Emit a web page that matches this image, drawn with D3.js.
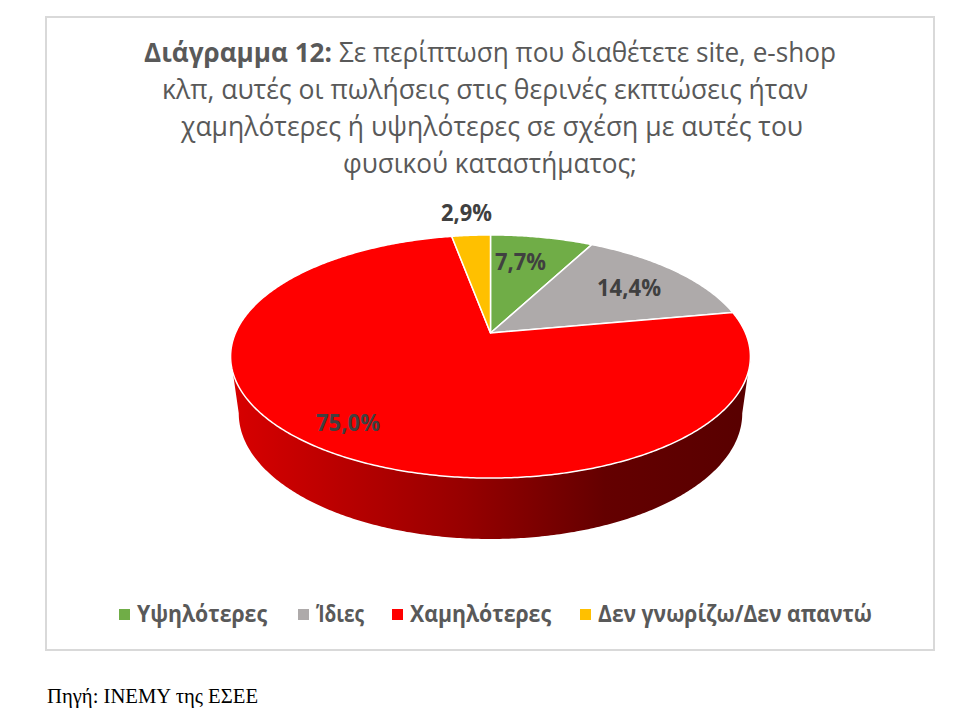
<!DOCTYPE html>
<html lang="el">
  <head>
    <meta charset="UTF-8" />
    <title>Διάγραμμα 12</title>
    <style>
      html, body { margin: 0; padding: 0; background: #fff; }
      svg { display: block; }
      text { font-family: "Open Sans", "Noto Sans", sans-serif; }
      .source { font-family: "Liberation Serif", "DejaVu Serif", serif; }
    </style>
  </head>
  <body>
    <script src="https://cdn.jsdelivr.net/npm/d3@7/dist/d3.min.js"></script>
    <script>
      var categories = ["Υψηλότερες", "Ίδιες", "Χαμηλότερες", "Δεν γνωρίζω/Δεν απαντώ"];
      var values = [7.7, 14.4, 75.0, 2.9];
      var valueLabels = ["7,7%", "14,4%", "75,0%", "2,9%"];
      var colors = ["#70ad47", "#aeaaaa", "#ff0000", "#ffc000"];
      var titleBold = "Διάγραμμα 12:";
      var titleLines = [
        "Σε περίπτωση που διαθέτετε site, e-shop",
        "κλπ, αυτές οι πωλήσεις στις θερινές εκπτώσεις ήταν",
        "χαμηλότερες ή υψηλότερες σε σχέση με αυτές του",
        "φυσικού καταστήματος;"
      ];
      var source = "Πηγή: ΙΝΕΜΥ της ΕΣΕΕ";

      var w = 977, h = 722;
      var svg = d3.select("body").append("svg").attr("width", w).attr("height", h);

      // chart frame
      svg.append("rect")
         .attr("x", 46).attr("y", 17).attr("width", 888).attr("height", 633)
         .attr("fill", "#fff").attr("stroke", "#d9d9d9").attr("stroke-width", 2);

      // text squeezed to the measured width, the original font is narrower
      function fit(sel, len) {
        return sel.attr("textLength", len).attr("lengthAdjust", "spacingAndGlyphs");
      }

      // title
      fit(svg.append("text").attr("x", 144).attr("y", 62), 188)
        .attr("font-size", 27).attr("font-weight", "bold").attr("fill", "#595959")
        .text(titleBold);

      var titleX = [339, 162, 181, 343];
      var titleY = [62, 99, 136, 173];
      var titleW = [497, 646, 622, 294];
      titleLines.forEach(function(line, i) {
        fit(svg.append("text").attr("x", titleX[i]).attr("y", titleY[i]), titleW[i])
          .attr("font-size", 27).attr("fill", "#595959")
          .text(line);
      });

      // pie, the disc is seen in perspective so the centre sits above the ellipse centre
      var pie = d3.pie().sort(null).value(function(d) { return d; });
      var arcs = pie(values);

      var disc = { cx: 490.5, cy: 333, a: 255, b: 117, k: 0.1934 };
      var rim = { cx: 490.5, cy: 389, a: 247, b: 121, k: 0.1934 };

      function project(p, angle) {
        var u = Math.sin(angle), v = Math.cos(angle);
        var d = 1 + p.k * v;
        return [p.cx + p.a * u / d, p.cy - p.b * v / d];
      }

      function sweep(p, a0, a1) {
        var n = Math.max(2, Math.ceil(Math.abs(a1 - a0) / 0.01));
        return d3.range(n + 1).map(function(i) {
          return project(p, a0 + (a1 - a0) * i / n);
        });
      }

      var pathLine = d3.line();

      var grad = svg.append("defs").append("linearGradient")
                    .attr("id", "wall")
                    .attr("gradientUnits", "userSpaceOnUse")
                    .attr("x1", 232).attr("x2", 750).attr("y1", 0).attr("y2", 0);
      grad.append("stop").attr("offset", "0").attr("stop-color", "#d80000");
      grad.append("stop").attr("offset", "0.45").attr("stop-color", "#960000");
      grad.append("stop").attr("offset", "0.72").attr("stop-color", "#640000");
      grad.append("stop").attr("offset", "1").attr("stop-color", "#580000");

      // outer wall, only the side that faces the viewer
      var wallFrom = Math.PI / 2 + Math.asin(disc.k);
      var wallTo = 3 * Math.PI / 2 - Math.asin(disc.k);
      var wallPts = sweep(disc, wallFrom, wallTo).concat(sweep(rim, wallTo, wallFrom));
      svg.append("path").attr("d", pathLine(wallPts) + "Z").attr("fill", "url(#wall)");

      // top face
      svg.selectAll("path.slice")
         .data(arcs)
         .enter()
         .append("path")
         .attr("class", "slice")
         .attr("d", function(d) {
           return pathLine([[disc.cx, disc.cy]].concat(sweep(disc, d.startAngle, d.endAngle))) + "Z";
         })
         .attr("fill", function(d, i) { return colors[i]; })
         .attr("stroke", "#fff")
         .attr("stroke-width", 1.5)
         .attr("stroke-linejoin", "round");

      // value labels
      var labelX = [495, 597, 316, 441];
      var labelY = [270, 296, 431, 221];
      var labelW = [51, 64, 64, 51];
      valueLabels.forEach(function(t, i) {
        fit(svg.append("text").attr("x", labelX[i]).attr("y", labelY[i]), labelW[i])
          .attr("font-size", 23).attr("font-weight", "bold").attr("fill", "#404040")
          .text(t);
      });

      // legend
      var keyX = [119, 298, 392, 580];
      var legendX = [137, 316, 410, 598];
      var legendW = [130, 48, 141, 274];
      categories.forEach(function(c, i) {
        svg.append("rect")
           .attr("x", keyX[i]).attr("y", 609)
           .attr("width", 11).attr("height", 11)
           .attr("fill", colors[i]);
        fit(svg.append("text").attr("x", legendX[i]).attr("y", 622), legendW[i])
          .attr("font-size", 23).attr("font-weight", "bold").attr("fill", "#595959")
          .text(c);
      });

      // source note
      fit(svg.append("text").attr("class", "source").attr("x", 47).attr("y", 703), 211)
        .attr("font-size", 21).attr("fill", "#000")
        .text(source);
    </script>
  </body>
</html>
